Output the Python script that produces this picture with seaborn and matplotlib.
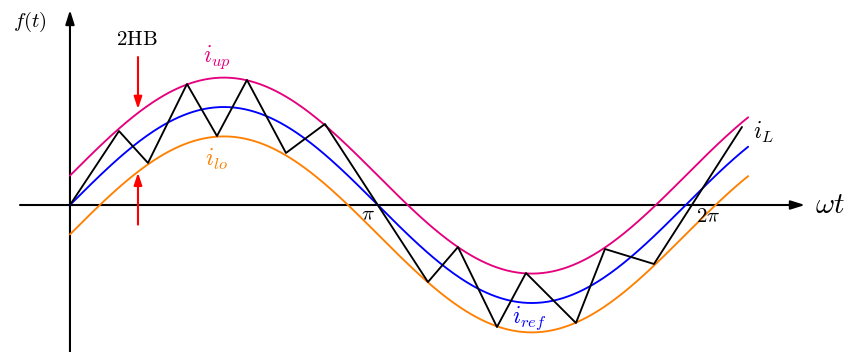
import numpy as np
import pandas as pd
import matplotlib
matplotlib.use("Agg")
import matplotlib.pyplot as plt
import seaborn as sns

sns.set_theme(style="white")
plt.rcParams["mathtext.fontset"] = "cm"
plt.rcParams["font.family"] = ["DejaVu Serif"]
plt.rcParams["text.color"] = "black"

# Hysteresis band and reference current
HB = 0.3
wt_end = 6.92

# Inductor current switching points (wt in rad, current in p.u.)
il_wt = [0.0, 0.50, 0.796, 1.194, 1.50, 1.806, 2.204, 2.602, 3.653, 3.959,
         4.357, 4.653, 5.163, 5.459, 5.959, 6.857]
il_val = [0.0, 0.755, 0.429, 1.235, 0.704, 1.276, 0.531, 0.827, -0.786, -0.429,
          -1.245, -0.694, -1.204, -0.449, -0.602, 0.796]

wt = np.linspace(0, wt_end, 400)
ref = np.sin(wt)
curves = pd.concat([
    pd.DataFrame({"wt": wt, "f": ref + HB, "curve": "up"}),
    pd.DataFrame({"wt": wt, "f": ref, "curve": "ref"}),
    pd.DataFrame({"wt": wt, "f": ref - HB, "curve": "lo"}),
])
palette = {"up": "#e5007d", "ref": "#0000ff", "lo": "#ff8000"}

fig = plt.figure(figsize=(8.48, 3.52), dpi=100)
ax = fig.add_axes([0, 0, 1, 1])
ax.set_xlim(-0.714, 7.939)
ax.set_ylim(-1.5, 2.092)
ax.axis("off")

sns.lineplot(data=curves, x="wt", y="f", hue="curve", palette=palette,
             linewidth=1.35, legend=False, ax=ax, sort=False, zorder=3)
sns.lineplot(x=il_wt, y=il_val, color="black", linewidth=1.35, ax=ax,
             sort=False, zorder=4)

# Coordinate axes with arrow heads
arrow = dict(arrowstyle="-|>,head_length=0.7,head_width=0.22", color="black",
             lw=1.5, shrinkA=0, shrinkB=0)
ax.annotate("", xy=(7.5, 0), xytext=(-0.51, 0), arrowprops=arrow, zorder=2)
ax.annotate("", xy=(0, 1.99), xytext=(0, -1.5), arrowprops=arrow, zorder=2)

# Band width markers
x_hb = 0.694
red = dict(arrowstyle="-|>,head_length=0.6,head_width=0.2", color="#ff0000",
           lw=1.5, shrinkA=0, shrinkB=0)
ax.annotate("", xy=(x_hb, np.sin(x_hb) + HB + 0.04), xytext=(x_hb, 1.51),
            arrowprops=red, zorder=5)
ax.annotate("", xy=(x_hb, np.sin(x_hb) - HB - 0.01), xytext=(x_hb, -0.2),
            arrowprops=red, zorder=5)

# Labels
fs = 15
fsub = 17
ax.text(-0.408, 1.867, r"$f(t)$", fontsize=fs, ha="center", va="center")
ax.text(0.684, 1.684, r"$\mathrm{2HB}$", fontsize=fs, ha="center", va="center")
ax.text(1.50, 1.51, r"$i_{up}$", fontsize=fsub, ha="center", va="center", color=palette["up"])
ax.text(1.49, 0.46, r"$i_{lo}$", fontsize=fsub, ha="center", va="center", color=palette["lo"])
ax.text(4.69, -1.153, r"$i_{ref}$", fontsize=fsub, ha="center", va="center", color=palette["ref"])
ax.text(7.08, 0.745, r"$i_L$", fontsize=fsub, ha="center", va="center", color="black")
ax.text(3.04, -0.10, r"$\pi$", fontsize=fs, ha="center", va="center")
ax.text(6.51, -0.12, r"$2\pi$", fontsize=fs, ha="center", va="center")
ax.text(7.755, 0.0, r"$\omega t$", fontsize=21, ha="center", va="center")

fig.savefig("out.png", dpi=100)
